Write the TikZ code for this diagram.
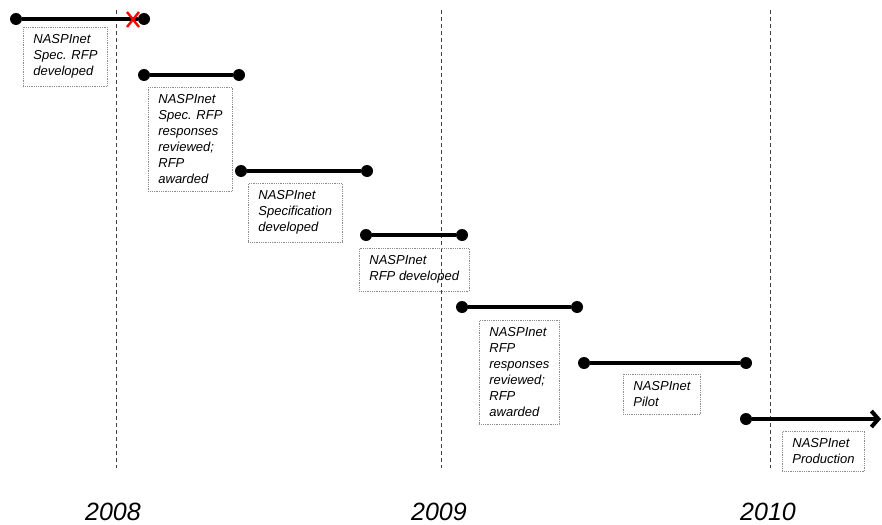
\documentclass[tikz,border=0pt]{standalone}
\usepackage{fontspec}
\setmainfont{Liberation Sans}
\usetikzlibrary{arrows.meta}
\begin{document}
\begin{tikzpicture}[x=1pt,y=-1pt,
	dot/.style={circle,fill=black,inner sep=0pt,minimum size=12pt},
	bar/.style={line width=4pt},
	taskbox/.style={draw=black!45,densely dotted,line width=0.8pt,align=left,anchor=north west,
		inner xsep=10pt,inner ysep=7.5pt,font=\fontsize{13}{16}\selectfont\itshape},
	yearline/.style={black!75,dash pattern=on 4pt off 3pt,line width=0.9pt},
	year/.style={inner sep=0pt,anchor=base,font=\fontsize{25}{30}\selectfont\itshape}]
\useasboundingbox (0,0) rectangle (882,524);
\draw[yearline] (116,10) -- (116,468);
\draw[yearline] (441,10) -- (441,468);
\draw[yearline] (770,10) -- (770,468);
\node[year] (y2008) at (113,520) {2008};
\node[year] (y2009) at (439,520) {2009};
\node[year] (y2010) at (768,520) {2010};
\node[dot] (s1) at (16,19) {};
\node[dot] (e1) at (144,19) {};
\draw[bar] (s1) -- (e1);
\draw[red,line width=2.4pt] (127,12) -- (139,27) (127,27) -- (139,12);
\node[taskbox] (t1) at (23,27) {NASPInet\\Spec. RFP\\developed};
\node[dot] (s2) at (144,75) {};
\node[dot] (e2) at (239,75) {};
\draw[bar] (s2) -- (e2);
\node[taskbox] (t2) at (148,87) {NASPInet\\Spec. RFP\\responses\\reviewed;\\RFP\\awarded};
\node[dot] (s3) at (241,171) {};
\node[dot] (e3) at (367,171) {};
\draw[bar] (s3) -- (e3);
\node[taskbox] (t3) at (248,183) {NASPInet\\Specification\\developed};
\node[dot] (s4) at (366,235) {};
\node[dot] (e4) at (462,235) {};
\draw[bar] (s4) -- (e4);
\node[taskbox] (t4) at (359,248) {NASPInet\\RFP developed};
\node[dot] (s5) at (462,307) {};
\node[dot] (e5) at (577,307) {};
\draw[bar] (s5) -- (e5);
\node[taskbox] (t5) at (479,320) {NASPInet\\RFP\\responses\\reviewed;\\RFP\\awarded};
\node[dot] (s6) at (584,363) {};
\node[dot] (e6) at (746,363) {};
\draw[bar] (s6) -- (e6);
\node[taskbox] (t6) at (623,374) {NASPInet\\Pilot};
\node[dot] (s7) at (746,419) {};
\coordinate (e7) at (881,419);
\draw[bar,-{Straight Barb[length=7pt,width=16pt]}] (s7) -- (e7);
\node[taskbox] (t7) at (782,431) {NASPInet\\Production};
\end{tikzpicture}
\end{document}
